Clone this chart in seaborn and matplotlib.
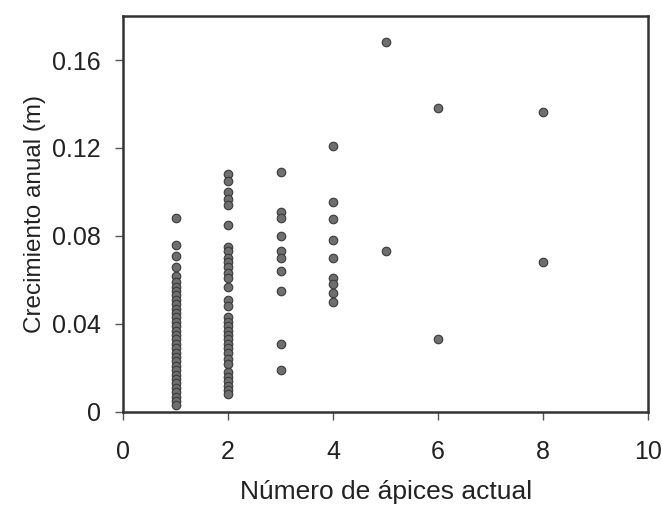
import matplotlib
matplotlib.use("Agg")
import matplotlib.pyplot as plt
import seaborn as sns
import pandas as pd

# Data
apices_1 = [0.088, 0.076, 0.071, 0.066, 0.062, 0.059, 0.057, 0.055, 0.053, 0.051,
            0.049, 0.047, 0.045, 0.043, 0.041, 0.039, 0.037, 0.035, 0.033, 0.031,
            0.029, 0.027, 0.025, 0.023, 0.021, 0.019, 0.017, 0.015, 0.013, 0.011,
            0.009, 0.007, 0.005, 0.003]
apices_2 = [0.108, 0.105, 0.100, 0.097, 0.094, 0.085, 0.075, 0.073, 0.070, 0.068,
            0.066, 0.063, 0.061, 0.057, 0.051, 0.048, 0.043, 0.041, 0.039, 0.037,
            0.035, 0.033, 0.031, 0.029, 0.027, 0.024, 0.022, 0.018, 0.016, 0.014,
            0.012, 0.010, 0.008]
apices_3 = [0.109, 0.091, 0.088, 0.080, 0.073, 0.070, 0.064, 0.055, 0.031, 0.019]
apices_4 = [0.121, 0.0955, 0.0875, 0.078, 0.070, 0.061, 0.058, 0.054, 0.050]
apices_5 = [0.168, 0.073]
apices_6 = [0.138, 0.033]
apices_8 = [0.1365, 0.068]

groups = {1: apices_1, 2: apices_2, 3: apices_3, 4: apices_4,
          5: apices_5, 6: apices_6, 8: apices_8}
rows = [(k, v) for k, vals in groups.items() for v in vals]
df = pd.DataFrame(rows, columns=["apices", "crecimiento"])

x_ticks = [0, 2, 4, 6, 8, 10]
y_ticks = [0, 0.04, 0.08, 0.12, 0.16]
y_tick_labels = ["0", "0.04", "0.08", "0.12", "0.16"]

sns.set_style("white")
plt.rcParams['font.family'] = ['Liberation Sans', 'DejaVu Sans']

fig = plt.figure(figsize=(6.62, 5.08), dpi=100)
ax = fig.add_axes([0.186, 0.189, 0.793, 0.7795])

sns.scatterplot(data=df, x="apices", y="crecimiento", ax=ax,
                color="#6e6e6e", edgecolor="#3a3a3a", linewidth=0.8, s=38,
                legend=False, zorder=3)

ax.set_xlim(0, 10)
ax.set_ylim(0, 0.18)
ax.set_xticks(x_ticks)
ax.set_xticklabels([str(t) for t in x_ticks])
ax.set_yticks(y_ticks)
ax.set_yticklabels(y_tick_labels)

for sp in ax.spines.values():
    sp.set_visible(True)
    sp.set_color("#333333")
    sp.set_linewidth(1.8)

ax.tick_params(axis="both", which="major", bottom=True, left=True,
               direction="out", length=6, width=1.0,
               color="#555555", labelsize=18, labelcolor="#222222")
ax.tick_params(axis="x", pad=14)
ax.tick_params(axis="y", pad=10)

ax.set_xlabel("Número de ápices actual", fontsize=19, color="#222222", labelpad=12)
ax.set_ylabel("Crecimiento anual (m)", fontsize=17.5, color="#222222", labelpad=4)

fig.savefig("out.png", dpi=100)
